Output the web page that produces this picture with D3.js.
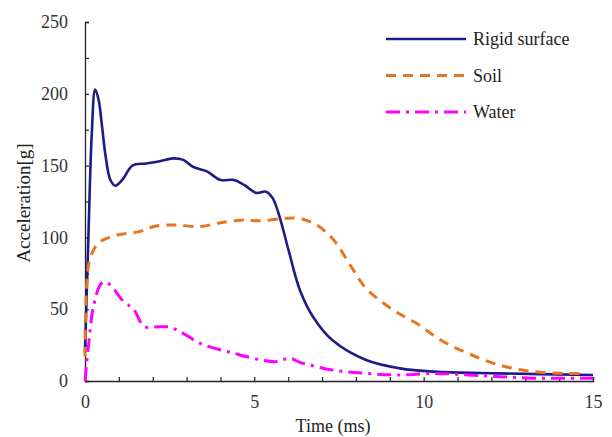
<!DOCTYPE html>
<html><head><meta charset="utf-8">
<script src="https://cdn.jsdelivr.net/npm/d3@7"></script>
<style>body{margin:0;background:#fff}svg{display:block}</style>
</head><body><svg id="c" width="612" height="437"></svg>
<script>
const seriesNames = ["Rigid surface", "Soil", "Water"];
const rigidT = [0,0.05,0.1,0.2,0.3,0.4,0.5,0.6,0.75,0.9,1.1,1.4,1.8,2.2,2.6,2.9,3.2,3.6,4.0,4.4,4.7,5.05,5.35,5.55,5.75,6.0,6.35,6.75,7.3,8.3,9.3,10.3,12.2,15];
const rigidV = [20,60,100,172,203,196,178,158,140,136,140,150,151.5,153,155,154,149,146,140,140,136.5,131,131.8,127,114,92,63,44,28.5,14.6,8.8,6.5,5.3,4.2];
const soilT = [0,0.1,0.25,0.45,0.95,1.6,2.1,2.7,3.4,3.9,4.6,5.2,5.9,6.35,6.85,7.35,7.85,8.3,9.1,9.8,10.5,11.3,12.25,13.25,14.2,14.8];
const soilV = [17,80,91,97,101.7,104,108,108.6,107.5,109.8,112,111.6,113.3,113,108.6,98,80,64.5,49.4,40,28.5,19.3,11,6.5,5.3,5.3];
const waterT = [0,0.1,0.25,0.45,0.55,0.75,1.1,1.45,1.75,2.2,2.5,2.9,3.4,4.4,5.2,5.65,6.05,6.35,7.3,8.3,9.3,10.3,11.3,12.25,13.2,14.2,15];
const waterV = [0,24,52,67,69,66.8,56.4,49.4,38,37.8,37.5,33.2,26.2,19.3,14.6,13.5,15.8,13,7.7,5.3,4.2,5.3,4.2,3,2,2,2];
const xTickLabels = [0,5,10,15];
const yTickLabels = [0,50,100,150,200,250];

const FONT = "Liberation Serif";
const svg = d3.select("#c");
const x = d3.scaleLinear().domain([0,15]).range([85,593]);
const y = d3.scaleLinear().domain([0,250]).range([381,22]);

const xAxis = d3.axisBottom(x).tickValues(d3.range(0,16,1)).tickSize(-4).tickPadding(14)
  .tickFormat(d => xTickLabels.includes(d) ? d : "");
const gx = svg.append("g").attr("transform","translate(0,381)").call(xAxis);
const yAxis = d3.axisLeft(y).tickValues(d3.range(0,251,25)).tickSize(-4).tickPadding(17)
  .tickFormat(d => yTickLabels.includes(d) ? d : "");
const gy = svg.append("g").attr("transform","translate(85,0)").call(yAxis);
[gx,gy].forEach(g=>{
  g.attr("font-family",FONT).attr("font-size",18);
  g.select(".domain").attr("stroke","#222").attr("stroke-width",1.3);
  g.selectAll(".tick line").attr("stroke","#222").attr("stroke-width",1.2);
  g.selectAll("text").attr("fill","#333");
});

svg.append("text").attr("x",333).attr("y",432).attr("text-anchor","middle").attr("fill","#222")
  .attr("font-family",FONT).attr("font-size",18).text("Time (ms)");
svg.append("text").attr("transform","translate(30,203) rotate(-90)").attr("text-anchor","middle").attr("fill","#222")
  .attr("font-family",FONT).attr("font-size",19).text("Acceleration[g]");

const styles = [
  {t:rigidT, v:rigidV, color:"#1c1c86", w:2.6, dash:null},
  {t:soilT, v:soilV, color:"#e8761f", w:3, dash:"10,7"},
  {t:waterT, v:waterV, color:"#ff00ff", w:3, dash:"14,6,3,6"}
];
const line = d3.line().x(d=>x(d[0])).y(d=>y(d[1])).curve(d3.curveCatmullRom.alpha(0.5));
styles.forEach(s=>{
  svg.append("path").datum(s.t.map((t,i)=>[t,s.v[i]]))
    .attr("d",line).attr("fill","none").attr("stroke",s.color).attr("stroke-width",s.w)
    .attr("stroke-dasharray",s.dash).attr("stroke-linejoin","round");
});

const lg = svg.append("g");
seriesNames.forEach((n,i)=>{
  const yy = 39 + i*36.5;
  lg.append("line").attr("x1",386).attr("x2",466).attr("y1",yy).attr("y2",yy)
    .attr("stroke",styles[i].color).attr("stroke-width",styles[i].w).attr("stroke-dasharray",styles[i].dash);
  lg.append("text").attr("x",473).attr("y",yy+6).attr("fill","#222")
    .attr("font-family",FONT).attr("font-size",18).text(n);
});
</script></body></html>
